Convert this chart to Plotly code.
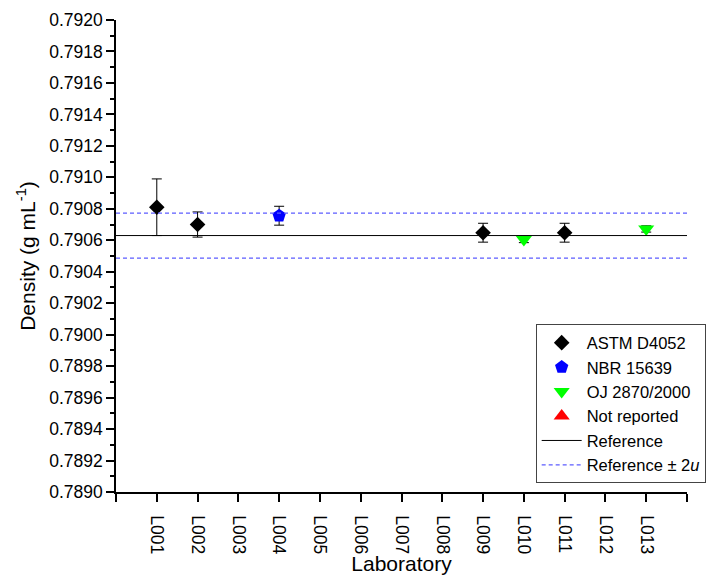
import plotly.graph_objects as go

labs = ["L001","L002","L003","L004","L005","L006","L007","L008","L009","L010","L011","L012","L013"]
lab_pos = list(range(1, 14))

astm_x = [1, 2, 9, 11]
astm_y = [0.79081, 0.79070, 0.790648, 0.790648]
astm_err = [0.00018, 0.00008, 0.00006, 0.00006]

nbr_x = [4]
nbr_y = [0.790756]
nbr_err = [0.00006]

oj_x = [10, 13]
oj_y = [0.790605, 0.790672]
oj_err = [0.00002, 0.00002]

ref_value = 0.79063
ref_u2 = 0.000143
x_span = [0, 14]

font = "Liberation Sans, Arial, sans-serif"

fig = go.Figure()
fig.add_trace(go.Scatter(x=astm_x, y=astm_y, mode="markers", name="ASTM D4052",
    marker=dict(symbol="diamond", size=12, color="black"),
    error_y=dict(type="data", array=astm_err, color="black", thickness=1, width=5)))
fig.add_trace(go.Scatter(x=nbr_x, y=nbr_y, mode="markers", name="NBR 15639",
    marker=dict(symbol="pentagon", size=14, color="blue"),
    error_y=dict(type="data", array=nbr_err, color="black", thickness=1, width=5)))
fig.add_trace(go.Scatter(x=oj_x, y=oj_y, mode="markers", name="OJ 2870/2000",
    marker=dict(symbol="triangle-down", size=14, color="#00ff00"),
    error_y=dict(type="data", array=oj_err, color="black", thickness=1, width=5)))
fig.add_trace(go.Scatter(x=[None], y=[None], mode="markers", name="Not reported",
    marker=dict(symbol="triangle-up", size=14, color="red")))
fig.add_trace(go.Scatter(x=x_span, y=[ref_value, ref_value], mode="lines", name="Reference",
    line=dict(color="black", width=1)))
fig.add_trace(go.Scatter(x=x_span, y=[ref_value + ref_u2, ref_value + ref_u2], mode="lines",
    name="Reference ± 2<i>u</i>", line=dict(color="#5c5cff", width=1.3, dash="4px,3px")))
fig.add_trace(go.Scatter(x=x_span, y=[ref_value - ref_u2, ref_value - ref_u2], mode="lines",
    name="Reference ± 2<i>u</i>", showlegend=False, line=dict(color="#5c5cff", width=1.3, dash="4px,3px")))

fig.update_layout(
    width=718, height=575,
    margin=dict(l=116, r=27, t=20, b=83),
    paper_bgcolor="white", plot_bgcolor="white",
    font=dict(family=font, size=17, color="black"),
    legend=dict(x=0.735, y=0.355, xanchor="left", yanchor="top",
                bordercolor="#444", borderwidth=1, bgcolor="white",
                font=dict(size=16.5), tracegroupgap=0, itemwidth=40),
    showlegend=True,
)
fig.update_xaxes(
    range=[0, 14], tickvals=lab_pos, ticktext=labs, automargin=False,
    tickangle=90, ticks="outside", ticklen=8, tickwidth=1.5, tickcolor="black",
    minor=dict(tick0=0, dtick=1, ticks="outside", ticklen=8, tickwidth=1.5, tickcolor="black"),
    showline=True, linecolor="black", linewidth=1.5, showgrid=False, zeroline=False,
    title=dict(text="Laboratory", font=dict(size=21), standoff=0),
    tickfont=dict(size=17.5), ticklabelstandoff=10,
)
fig.update_yaxes(
    range=[0.7890, 0.7920], dtick=0.0002, tick0=0.7890, tickformat=".4f", automargin=False,
    ticks="outside", ticklen=8, tickwidth=1.5, tickcolor="black",
    minor=dict(dtick=0.0001, ticks="outside", ticklen=4, tickcolor="black", tickwidth=1.5),
    showline=True, linecolor="black", linewidth=1.5, showgrid=False, zeroline=False,
    title=dict(text="Density (g mL<sup>-1</sup>)", font=dict(size=21), standoff=8),
    tickfont=dict(size=17.5),
)
fig.write_html("out.html")
